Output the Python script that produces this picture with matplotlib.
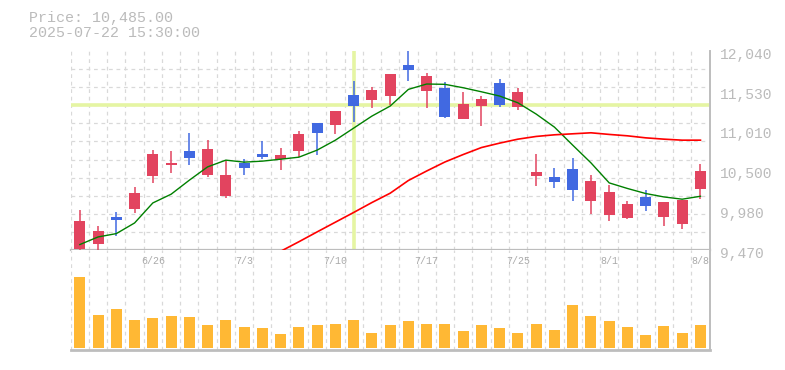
import matplotlib
matplotlib.use("Agg")
import matplotlib.pyplot as plt
import matplotlib.transforms as mtransforms
import numpy as np

# ---------------- data ----------------
dates = ['6/20', '6/23', '6/24', '6/25', '6/26', '6/27', '6/30', '7/1', '7/2', '7/3',
         '7/4', '7/7', '7/8', '7/9', '7/10', '7/11', '7/14', '7/15', '7/16', '7/17',
         '7/18', '7/22', '7/23', '7/24', '7/25', '7/28', '7/29', '7/30', '7/31', '8/1',
         '8/4', '8/5', '8/6', '8/7', '8/8']
opens = [9483, 9547, 9896, 9999, 10424, 10566, 10747, 10437, 10166, 10596,
         10708, 10643, 10747, 11108, 11082, 11469, 11404, 11456, 11856, 11520,
         11559, 11159, 11327, 11623, 11314, 10424, 10411, 10514, 10102, 9921,
         9883, 10153, 9896, 9805, 10257]
highs = [9986, 9780, 9960, 10282, 10760, 10747, 10979, 10888, 10631, 10647,
         10876, 10785, 11005, 11108, 11262, 11649, 11572, 11745, 12060, 11752,
         11636, 11507, 11456, 11675, 11559, 10708, 10527, 10656, 10437, 10308,
         10102, 10244, 10089, 10115, 10579]
lows = [9460, 9460, 9650, 9947, 10334, 10463, 10566, 10411, 10141, 10437,
        10643, 10502, 10669, 10695, 10966, 11121, 11301, 11340, 11649, 11301,
        11172, 11159, 11069, 11314, 11275, 10295, 10270, 10102, 9934, 9844,
        9870, 9973, 9780, 9741, 10128]
closes = [9844, 9715, 9857, 10205, 10708, 10592, 10656, 10772, 10437, 10531,
          10669, 10695, 10966, 10979, 11262, 11327, 11533, 11740, 11791, 11714,
          11185, 11353, 11417, 11340, 11507, 10476, 10347, 10244, 10360, 10218,
          10063, 10037, 10089, 10115, 10485]
ma_short = [9544, 9642, 9685, 9822, 10080, 10192, 10373, 10544, 10631, 10605,
            10618, 10643, 10669, 10760, 10888, 11043, 11198, 11327, 11542, 11611,
            11607, 11563, 11511, 11456, 11369, 11224, 11056, 10824, 10596, 10338,
            10266, 10201, 10157, 10128, 10166]
ma_long_start = 11
ma_long = [9457, 9580, 9707, 9832, 9957, 10085, 10205, 10369, 10491, 10607,
           10703, 10793, 10850, 10901, 10936, 10957, 10970, 10983, 10962, 10944,
           10918, 10901, 10888, 10888]
volumes = [710, 327, 387, 277, 297, 317, 307, 227, 277, 207,
           197, 137, 207, 227, 237, 277, 147, 227, 267, 237,
           237, 167, 227, 197, 147, 237, 177, 427, 317, 267,
           207, 127, 217, 147, 227]
price_ticks = [9470, 9980, 10500, 11010, 11530, 12040]
price_tick_labels = ['9,470', '9,980', '10,500', '11,010', '11,530', '12,040']
label_every = 5
header_price = 'Price: 10,485.00'
header_time = '2025-07-22 15:30:00'
cross_index = 15
cross_price = 11344

# ---------------- style ----------------
UP = '#e2445f'
DOWN = '#4169e1'
VOL = '#ffb834'
GRID = '#d9d9d9'
SPINE = '#bdbdbd'
TXT = '#bbbbbb'
CROSS = '#e5f5a3'
MONO = 'Liberation Mono'

W, H = 785, 370
fig = plt.figure(figsize=(W / 100, H / 100), dpi=100)

left_px, right_px = 70.7, 709.6
p_top, p_bot = 50.7, 250.3
v_top, v_bot = 250.3, 350.0
axp = fig.add_axes([left_px / W, 1 - p_bot / H, (right_px - left_px) / W, (p_bot - p_top) / H])
axv = fig.add_axes([left_px / W, 1 - v_bot / H, (right_px - left_px) / W, (v_bot - v_top) / H])

n = len(dates)
x = np.arange(n)
ymin, ymax = price_ticks[0], price_ticks[-1]

for ax in (axp, axv):
    ax.set_xlim(-0.5, n - 0.5)
    ax.set_xticks(np.arange(-0.5, n, 1.0), minor=True)
    ax.set_xticks([])
    ax.grid(True, which='minor', axis='x', color=GRID, linestyle=(0, (3, 3)), linewidth=0.9)
    ax.tick_params(which='both', length=0, labelleft=False, labelbottom=False)
    for s in ('top', 'left'):
        ax.spines[s].set_visible(False)
    for s in ('right', 'bottom'):
        ax.spines[s].set_color(SPINE)
    ax.set_axisbelow(True)

# price panel
axp.set_ylim(ymin, ymax)
axp.set_yticks(np.linspace(ymin, ymax, 12), minor=True)
axp.grid(True, which='minor', axis='y', color=GRID, linestyle=(0, (3, 3)), linewidth=0.9)
axp.spines['bottom'].set_linewidth(1.6)
axp.spines['right'].set_linewidth(1.4)

# crosshair
axp.axhline(cross_price, color=CROSS, linewidth=2.6, zorder=1)
axp.axvline(cross_index, color=CROSS, linewidth=2.6, zorder=1)

# candles
colors = [UP if c >= o else DOWN for o, c in zip(opens, closes)]
bottoms = [min(o, c) for o, c in zip(opens, closes)]
heights = [max(abs(c - o), 22) for o, c in zip(opens, closes)]
axp.vlines(x, lows, highs, colors=colors, linewidth=1.1, zorder=3)
axp.bar(x, heights, bottom=bottoms, width=0.6, color=colors, zorder=4, linewidth=0)

# moving averages
axp.plot(x, ma_short, color='#008000', linewidth=1.0, zorder=5)
axp.plot(x[ma_long_start:ma_long_start + len(ma_long)], ma_long, color='#ff0000', linewidth=1.2, zorder=5)

# right price labels
axp.yaxis.tick_right()
axp.set_yticks(np.linspace(ymin, ymax, len(price_ticks)))
axp.set_yticklabels(price_tick_labels)
axp.tick_params(axis='y', which='major', length=0, pad=7.5, labelright=True, labelleft=False,
                labelcolor=TXT, labelsize=10.5)
offset = mtransforms.ScaledTranslation(0, -2.4 / 100, fig.dpi_scale_trans)
for lab in axp.get_yticklabels():
    lab.set_fontfamily(MONO)
    lab.set_transform(lab.get_transform() + offset)

# volume panel
axv.bar(x, volumes, width=0.6, color=VOL, zorder=3, linewidth=0)
axv.set_ylim(-23, 974)
axv.set_yticks([])
axv.spines['bottom'].set_linewidth(2.0)
axv.spines['right'].set_linewidth(1.4)

# date labels
lab_y = (v_bot - 261.5) / (v_bot - v_top)
trans = mtransforms.blended_transform_factory(axv.transData, axv.transAxes)
for i in range(n - 1, -1, -label_every):
    axv.text(i, lab_y, dates[i], transform=trans, ha='center', va='center',
             fontsize=7.2, color='#aaaaaa', family=MONO, zorder=6)

# header
fig.text(29 / W, 1 - 18 / H, header_price, ha='left', va='center', fontsize=10.8,
         color=TXT, family=MONO)
fig.text(29 / W, 1 - 33.3 / H, header_time, ha='left', va='center', fontsize=10.8,
         color=TXT, family=MONO)

fig.savefig('out.png', dpi=100)
